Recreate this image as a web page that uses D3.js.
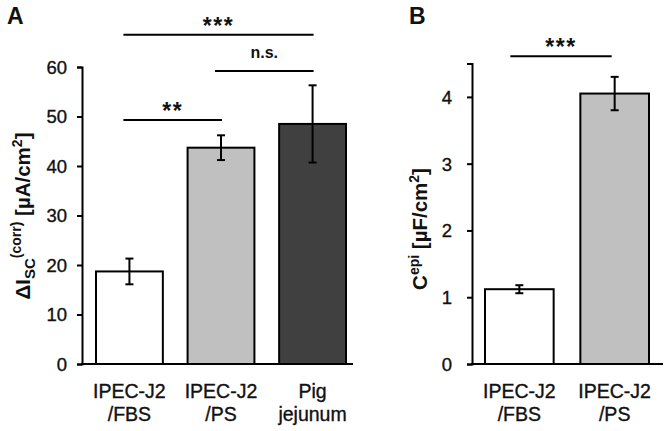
<!DOCTYPE html>
<html><head><meta charset="utf-8">
<script src="https://cdn.jsdelivr.net/npm/d3@7"></script>
<style>
html,body{margin:0;padding:0;background:#fff;}
svg{display:block;}
text{font-family:"Liberation Sans",Arial,sans-serif;fill:#111;}
</style></head>
<body>
<svg id="c" width="670" height="431"></svg>
<script>
// ---- data ----
const catsA = [["IPEC-J2","/FBS"],["IPEC-J2","/PS"],["Pig","jejunum"]];
const valsA = [18.7, 43.7, 48.5];
const errA = [2.6, 2.5, 7.8];
const colorsA = ["#ffffff", "#c0c0c0", "#404040"];
const ticksA = [0, 10, 20, 30, 40, 50, 60];
const sigA = [
  {a: 0, b: 2, level: 66.5, label: "***"},
  {a: 1, b: 2, level: 59.2, label: "n.s."},
  {a: 0, b: 1, level: 49.3, label: "**"}
];

const catsB = [["IPEC-J2","/FBS"],["IPEC-J2","/PS"]];
const valsB = [1.12, 4.05];
const errB = [0.06, 0.25];
const colorsB = ["#ffffff", "#c0c0c0"];
const ticksB = [0, 1, 2, 3, 4];
const sigB = [{a: 0, b: 1, level: 4.61, label: "***"}];

const svg = d3.select("#c");

function panel(o) {
  const g = svg.append("g");
  const x = d3.scaleBand().domain(d3.range(o.vals.length)).range(o.barRange).paddingInner(o.padIn).paddingOuter(0);
  const y = d3.scaleLinear().domain(o.ydom).range([364, o.ytop]);

  // bars
  g.selectAll("rect.bar").data(o.vals).enter().append("rect")
    .attr("x", (d,i) => x(i)).attr("width", x.bandwidth())
    .attr("y", d => y(d)).attr("height", d => y(0) - y(d))
    .attr("fill", (d,i) => o.colors[i]).attr("stroke", "#000").attr("stroke-width", 2);

  // error bars
  const eb = g.selectAll("g.eb").data(o.vals).enter().append("g");
  eb.append("line").attr("x1", (d,i) => x(i)+x.bandwidth()/2).attr("x2", (d,i) => x(i)+x.bandwidth()/2)
    .attr("y1", (d,i) => y(d+o.err[i])).attr("y2", (d,i) => y(d-o.err[i]))
    .attr("stroke", "#000").attr("stroke-width", 2);
  [1,-1].forEach(s => {
    eb.append("line").attr("x1", (d,i) => x(i)+x.bandwidth()/2-4).attr("x2", (d,i) => x(i)+x.bandwidth()/2+4)
      .attr("y1", (d,i) => y(d+s*o.err[i])).attr("y2", (d,i) => y(d+s*o.err[i]))
      .attr("stroke", "#000").attr("stroke-width", 2);
  });

  // y axis
  const ax = g.append("g").attr("transform", `translate(${o.axisX},0)`)
    .call(d3.axisLeft(y).tickValues(o.ticks).tickSizeOuter(0).tickSize(5).tickPadding(o.tickPad).tickFormat(d3.format("d")));
  ax.select(".domain").attr("stroke", "#000").attr("stroke-width", 2);
  ax.selectAll(".tick line").attr("stroke", "#000").attr("stroke-width", 2);
  ax.selectAll(".tick text").attr("font-size", 18.5).attr("font-family", "Liberation Sans, Arial, sans-serif")
    .attr("fill", "#111").attr("stroke", "#111").attr("stroke-width", 0.35).attr("dy", "0.35em");

  // x axis line
  g.append("line").attr("x1", o.axisX - 1).attr("x2", o.axisEnd).attr("y1", y(0)).attr("y2", y(0))
    .attr("stroke", "#000").attr("stroke-width", 2);

  // x labels
  const xl = g.selectAll("text.xl").data(o.cats).enter().append("text")
    .attr("text-anchor", "middle").attr("font-size", 19.5).attr("stroke", "#111").attr("stroke-width", 0.35)
    .attr("x", (d,i) => x(i)+x.bandwidth()/2);
  xl.append("tspan").attr("x", (d,i) => x(i)+x.bandwidth()/2).attr("y", 398).text(d => d[0]);
  xl.append("tspan").attr("x", (d,i) => x(i)+x.bandwidth()/2).attr("y", 421).text(d => d[1]);

  // significance
  const sg = g.selectAll("g.sig").data(o.sig).enter().append("g");
  const cx = i => x(i) + x.bandwidth()/2;
  sg.append("line").attr("x1", d => cx(d.a) + o.sigOff[0]).attr("x2", d => cx(d.b) + o.sigOff[1])
    .attr("y1", d => y(d.level)).attr("y2", d => y(d.level)).attr("stroke", "#000").attr("stroke-width", 2);
  sg.append("text").attr("text-anchor", "middle")
    .attr("x", d => (cx(d.a) + o.sigOff[0] + cx(d.b) + o.sigOff[1]) / 2)
    .attr("y", d => y(d.level) - (d.label === "n.s." ? 13 : 1))
    .attr("font-size", d => d.label === "n.s." ? 16 : 23)
    .attr("font-weight", "bold")
    .attr("letter-spacing", d => d.label === "n.s." ? 0 : 1.5)
    .text(d => d.label);

  // panel letter
  g.append("text").attr("x", o.letterX).attr("y", 24).attr("font-size", 23).attr("font-weight", "bold").text(o.letter);

  // y label
  const yl = g.append("text").attr("transform", `translate(${o.ylabX},${o.ylabY}) rotate(-90)`)
    .attr("text-anchor", "middle").attr("font-size", 20.5).attr("font-weight", "bold");
  o.ylab(yl);
}

panel({
  vals: valsA, err: errA, colors: colorsA, cats: catsA, ticks: ticksA, sig: sigA,
  ydom: [0, 60], ytop: 67, barRange: [96, 346], padIn: 0.27, axisX: 82, axisEnd: 353, tickPad: 10,
  sigOff: [-6, 1], letter: "A", letterX: 7, ylabX: 30, ylabY: 216,
  ylab: t => {
    t.append("tspan").text("ΔI");
    t.append("tspan").attr("font-size", 15).attr("dy", 5).text("SC");
    t.append("tspan").attr("font-size", 14).attr("dy", -14).text("(corr)");
    t.append("tspan").attr("dy", 9).text(" [µA/cm");
    t.append("tspan").attr("font-size", 14).attr("dy", -8).text("2");
    t.append("tspan").attr("dy", 8).text("]");
  }
});

panel({
  vals: valsB, err: errB, colors: colorsB, cats: catsB, ticks: ticksB, sig: sigB,
  ydom: [0, 4.5], ytop: 63.5, barRange: [485, 649], padIn: 0.28, axisX: 472, axisEnd: 663, tickPad: 15,
  sigOff: [-9, -3], letter: "B", letterX: 409, ylabX: 427, ylabY: 229,
  ylab: t => {
    t.append("tspan").text("C");
    t.append("tspan").attr("font-size", 14).attr("dy", -8).text("epi");
    t.append("tspan").attr("dy", 8).text(" [µF/cm");
    t.append("tspan").attr("font-size", 14).attr("dy", -8).text("2");
    t.append("tspan").attr("dy", 8).text("]");
  }
});
</script>
</body></html>
